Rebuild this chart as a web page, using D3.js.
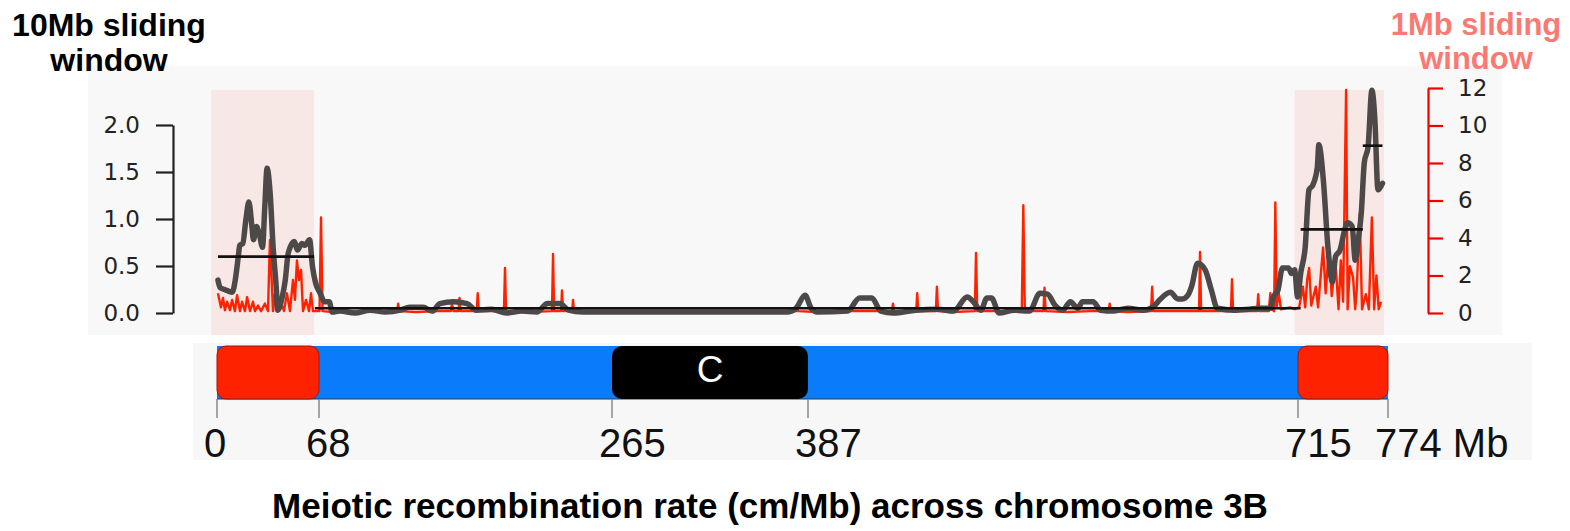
<!DOCTYPE html>
<html>
<head>
<meta charset="utf-8">
<script src="https://cdn.jsdelivr.net/npm/d3@7"></script>
<style>
  html, body { margin: 0; padding: 0; background: #fff; }
  svg { display: block; }
</style>
</head>
<body>
<div id="chart"></div>
<script>
// chromosome 3B, positions in Mb
var chromLength = 774;
var boundaryTicks = [0, 68, 265, 387, 715, 774];
var tickLabels = ['0', '68', '265', '387', '715', '774 Mb'];
var distalRegions = [[0, 68], [715, 774]];
var centromere = [265, 387];

// 10Mb sliding window (left axis, cM/Mb)
var window10 = [
  [4.6,0.35],[6,0.27],[9,0.25],[14,0.22],[16,0.35],[18,0.6],[19,0.72],[21,0.74],[23,0.99],[25,1.18],
  [27,0.92],[28,0.78],[30,0.92],[32,0.83],[34,0.7],[35.5,1.13],[37,1.54],[39,1.28],[41,0.7],[43,0.28],
  [44,0.03],[47,0.17],[49,0.35],[51,0.64],[55,0.76],[57,0.67],[60,0.74],[62,0.72],[65,0.78],[67,0.49],
  [69,0.32],[72,0.21],[75,0.12],[78,0.12],[80,0.01],[85,0.02],[95,0.0],[105,0.03],[115,0.01],[125,0.03],
  [131,0.06],[140,0.06],[146,0.02],[151,0.1],[160,0.12],[169,0.1],[175,0.03],[185,0.04],[195,0.0],[205,0.02],
  [215,0.01],[222,0.1],[230,0.1],[236,0.03],[245,0.01],[300,0.01],[380,0.01],[386,0.05],[392,0.19],[396,0.05],
  [400,0.01],[420,0.02],[428,0.16],[436,0.16],[442,0.02],[450,0.0],[465,0.03],[480,0.04],[490,0.02],[499,0.17],
  [503,0.12],[508,0.03],[512,0.16],[515,0.16],[520,0.0],[530,0.03],[540,0.02],[547,0.21],[552,0.2],[557,0.08],
  [562,0.03],[567,0.12],[572,0.05],[575,0.12],[582,0.12],[587,0.03],[595,0.02],[605,0.05],[615,0.03],[622,0.07],
  [626,0.14],[633,0.22],[638,0.15],[641,0.15],[645,0.2],[647,0.28],[651,0.53],[656,0.46],[660,0.25],[664,0.05],
  [675,0.03],[685,0.04],[692,0.05],[699,0.05],[701,0.17],[704,0.24],[707,0.48],[711,0.48],[713,0.42],[715,0.46],
  [717,0.17],[719,0.42],[722,0.7],[724.5,1.31],[727,1.36],[730,1.55],[731,1.79],[734,1.41],[737,0.7],[740,0.33],
  [742,0.6],[745,0.67],[748,0.88],[750,0.96],[753,0.92],[755,0.56],[757,0.78],[759,1.06],[761,1.6],[763.5,1.77],
  [766,2.37],[768,2.05],[770,1.31],[773,1.38]
];

// 1Mb sliding window (right axis, cM/Mb)
var window1 = [
  [4.6,1.05],[6.6,0.3],[7.9,0.8],[9.2,0.15],[10.6,0.6],[12.5,0.15],[13.9,0.7],[15.8,0.1],[17.2,0.95],[19.1,0.1],
  [20.5,0.6],[22.4,0.1],[23.8,0.85],[25.7,0.1],[27.7,0.6],[29,0.1],[31,0.4],[33,0.1],[35.6,0.5],[37.6,0.1],
  [38.9,3.9],[40.9,0.1],[42.2,1.05],[44.2,0.1],[45.5,0.7],[48.2,0.1],[50.1,1.05],[52.1,0.1],[54.1,1.76],[55.4,0.7],
  [56.7,2.8],[58.1,1.76],[59.4,2.3],[60.7,0.1],[62.7,0.7],[64.7,0.1],[66,1.05],[67.3,0.1],[71.6,0.1],[72.6,5.1],
  [73.6,0.1],[80,0.05],[90,0.1],[100,0.05],[110,0.1],[122.8,0.1],[123.5,0.5],[124.2,0.1],[135,0.05],[150,0.1],
  [158.3,0.1],[159,0.5],[160,0.1],[163.3,0.1],[164,0.8],[164.7,0.1],[175.3,0.1],[176,1.05],[176.7,0.1],[193.3,0.1],
  [194,2.4],[194.7,0.1],[210,0.05],[225,0.1],[225.7,3.15],[226.4,0.1],[231,0.1],[231.6,1.2],[232.3,0.1],[238.3,0.1],
  [238.9,0.7],[239.5,0.1],[250,0.05],[270,0.1],[300,0.05],[330,0.05],[360,0.1],[386,0.1],[386.7,0.3],[387.4,0.1],
  [400,0.05],[420,0.1],[449.3,0.1],[450,0.5],[450.7,0.1],[465.3,0.1],[466,1.05],[466.7,0.1],[478.3,0.1],[479,1.4],
  [479.7,0.1],[490,0.05],[504,0.1],[504.8,3.2],[505.6,0.1],[520,0.1],[535,0.1],[536,5.75],[537,0.1],[549.3,0.1],
  [550,1.35],[550.7,0.1],[565,0.05],[580,0.1],[592.3,0.1],[593,0.5],[593.7,0.1],[605,0.05],[620.3,0.1],[621,1.4],
  [621.7,0.1],[635,0.1],[652,0.1],[652.6,3.25],[653.3,0.1],[665,0.1],[673,0.1],[673.7,1.8],[674.4,0.1],[685,0.1],
  [690.3,0.1],[691,1.0],[691.7,0.1],[698,0.1],[699,1.05],[700,0.2],[701.5,0.1],[702.3,5.9],[703.2,0.3],[704.5,1.1],
  [706,0.2],[712,0.3],[715,0.2],[718,0.3],[720.5,1.4],[722,0.3],[723.3,1.76],[724.6,2.4],[726,0.4],[729,1.4],
  [730.5,0.3],[733.8,3.5],[735.5,1.05],[737.7,3.5],[739.5,0.9],[742,2.7],[744,0.2],[745.5,2.8],[747,0.6],[749,11.9],
  [750,0.2],[751.5,2.5],[753.6,1.9],[755,0.2],[756,1.2],[758,5.3],[759.5,0.2],[762,1.0],[764,0.2],[766,5.1],
  [767.5,0.2],[769,2.0],[770.5,0.2],[772,0.6]
];

// mean rate per segment (start, end, mean on left axis)
var segmentMeans = [[4.6, 68, 0.6], [68.5, 719, 0.05], [719, 760, 0.89], [760, 773, 1.78]];

var leftTicks = [0, 0.5, 1.0, 1.5, 2.0];
var rightTicks = [0, 2, 4, 6, 8, 10, 12];

var W = 1570, H = 531;
var svg = d3.select('#chart').append('svg')
  .attr('xmlns', 'http://www.w3.org/2000/svg')
  .attr('width', W).attr('height', H);

var x = d3.scaleLinear().domain([0, chromLength]).range([211, 1384]);
var yL = d3.scaleLinear().domain([0, 2]).range([313, 125]);
var yR = d3.scaleLinear().domain([0, 12]).range([313, 88]);
// the ideogram is schematic, not quite to scale
var xc = d3.scaleLinear().domain(boundaryTicks).range([217, 319, 612, 808, 1298, 1388]);

// panel backgrounds
svg.append('rect').attr('x', 88).attr('y', 66).attr('width', 1414).attr('height', 269).attr('fill', '#f8f8f8');
svg.append('rect').attr('x', 193).attr('y', 343).attr('width', 1339).attr('height', 117).attr('fill', '#f7f7f7');

// distal regions highlight
svg.selectAll('.hl').data(distalRegions).enter().append('rect')
  .attr('class', 'hl')
  .attr('x', function(d) { return x(d[0]); })
  .attr('width', function(d) { return x(d[1]) - x(d[0]); })
  .attr('y', yR(12) + 2).attr('height', 335 - yR(12) - 2)
  .attr('fill', '#f7e7e5');

var line1 = d3.line().x(function(d) { return x(d[0]); }).y(function(d) { return yR(d[1]); });
var line10 = d3.line().x(function(d) { return x(d[0]); }).y(function(d) { return yL(d[1]); })
  .curve(d3.curveMonotoneX);

svg.append('path').datum(window1).attr('d', line1)
  .attr('fill', 'none').attr('stroke', '#ff2200').attr('stroke-width', 2.4).attr('stroke-linejoin', 'round');

svg.append('path').datum(window10).attr('d', line10)
  .attr('fill', 'none').attr('stroke', '#4e4949').attr('stroke-width', 5.5)
  .attr('stroke-linejoin', 'round').attr('stroke-linecap', 'round');

svg.selectAll('.mean').data(segmentMeans).enter().append('line')
  .attr('class', 'mean')
  .attr('x1', function(d) { return x(d[0]); })
  .attr('x2', function(d) { return x(d[1]); })
  .attr('y1', function(d) { return yL(d[2]); })
  .attr('y2', function(d) { return yL(d[2]); })
  .attr('stroke', '#111').attr('stroke-width', 2.6);

// axes
var axL = svg.append('g').attr('transform', 'translate(173,0)')
  .call(d3.axisLeft(yL).tickValues(leftTicks).tickSize(17).tickSizeOuter(0).tickPadding(16)
    .tickFormat(d3.format('.1f')));
axL.select('.domain').attr('stroke', '#222').attr('stroke-width', 2.2);
axL.selectAll('.tick line').attr('stroke', '#222').attr('stroke-width', 2.2);
axL.selectAll('.tick text').attr('font-family', 'DejaVu Sans').attr('font-size', 23).attr('fill', '#222');

var axR = svg.append('g').attr('transform', 'translate(1428,0)')
  .call(d3.axisRight(yR).tickValues(rightTicks).tickSize(15).tickSizeOuter(0).tickPadding(15));
axR.select('.domain').attr('stroke', '#f20000').attr('stroke-width', 2.2);
axR.selectAll('.tick line').attr('stroke', '#f20000').attr('stroke-width', 2.2);
axR.selectAll('.tick text').attr('font-family', 'DejaVu Sans').attr('font-size', 23).attr('fill', '#222');

// chromosome
var barTop = 346, barH = 53;
svg.append('rect').attr('x', xc(0)).attr('y', barTop).attr('width', xc(chromLength) - xc(0)).attr('height', barH)
  .attr('fill', '#0a7cfb');
svg.append('line').attr('x1', xc(0)).attr('x2', xc(chromLength)).attr('y1', barTop + barH).attr('y2', barTop + barH)
  .attr('stroke', '#2a3a55').attr('stroke-width', 1);
svg.selectAll('.tel').data(distalRegions).enter().append('rect')
  .attr('class', 'tel')
  .attr('x', function(d) { return xc(d[0]); })
  .attr('width', function(d) { return xc(d[1]) - xc(d[0]); })
  .attr('y', barTop).attr('height', barH).attr('rx', 9)
  .attr('fill', '#ff2200').attr('stroke', '#9a1a0a').attr('stroke-width', 1);
svg.append('rect').attr('x', xc(centromere[0])).attr('width', xc(centromere[1]) - xc(centromere[0]))
  .attr('y', barTop).attr('height', barH).attr('rx', 10).attr('fill', '#000');
svg.append('text').attr('x', (xc(centromere[0]) + xc(centromere[1])) / 2).attr('y', 382)
  .attr('text-anchor', 'middle').attr('font-family', 'Liberation Sans').attr('font-size', 37)
  .attr('fill', '#fff').text('C');

svg.selectAll('.btick').data(boundaryTicks).enter().append('line')
  .attr('class', 'btick')
  .attr('x1', function(d) { return xc(d); }).attr('x2', function(d) { return xc(d); })
  .attr('y1', barTop + barH).attr('y2', 418)
  .attr('stroke', '#8a8a8a').attr('stroke-width', 1.5);
svg.selectAll('.blab').data(boundaryTicks).enter().append('text')
  .attr('class', 'blab')
  .attr('x', function(d) { return xc(d) - 13; }).attr('y', 457)
  .attr('font-family', 'Liberation Sans').attr('font-size', 40).attr('fill', '#111')
  .text(function(d, i) { return tickLabels[i]; });

// labels
var lab10 = svg.append('text').attr('text-anchor', 'middle').attr('font-family', 'Liberation Sans')
  .attr('font-weight', 'bold').attr('font-size', 32).attr('fill', '#000');
lab10.append('tspan').attr('x', 109).attr('y', 36).text('10Mb sliding');
lab10.append('tspan').attr('x', 109).attr('y', 71).text('window');

var lab1 = svg.append('text').attr('text-anchor', 'middle').attr('font-family', 'Liberation Sans')
  .attr('font-weight', 'bold').attr('font-size', 31).attr('fill', '#fa7a73');
lab1.append('tspan').attr('x', 1476).attr('y', 35).text('1Mb sliding');
lab1.append('tspan').attr('x', 1476).attr('y', 69).text('window');

svg.append('text').attr('x', 770).attr('y', 518).attr('text-anchor', 'middle')
  .attr('font-family', 'Liberation Sans').attr('font-weight', 'bold').attr('font-size', 35).attr('fill', '#000')
  .text('Meiotic recombination rate (cm/Mb) across chromosome 3B');
</script>
</body>
</html>
